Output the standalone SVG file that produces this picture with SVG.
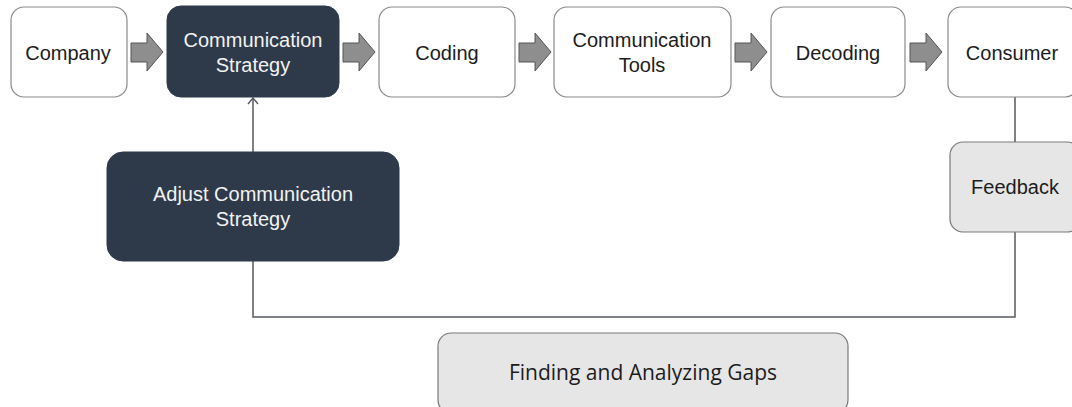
<svg xmlns="http://www.w3.org/2000/svg" width="1072" height="407" viewBox="0 0 1072 407">
<defs>
<style>
.lb{fill:#ffffff;stroke:#8a8a8a;stroke-width:1.2}
.db{fill:#2e3a4a;stroke:#2e3a4a;stroke-width:1}
.gb{fill:#e6e6e6;stroke:#7a7a7a;stroke-width:1.2}
.t{font-family:"Liberation Sans",Arial,sans-serif;font-size:20px;text-anchor:middle}
.tk{fill:#1c1c1c}
.tw{fill:#f2f2f2}
.ba{fill:#8e8e8e;stroke:#555555;stroke-width:1}
.ln{fill:none;stroke:#555a60;stroke-width:1.5}
</style>
<marker id="chev" viewBox="0 0 10 12" refX="9" refY="6" markerWidth="10" markerHeight="12" markerUnits="userSpaceOnUse" orient="auto">
<path d="M3,1 L9,6 L3,11" fill="none" stroke="#555a60" stroke-width="1.4"/>
</marker>
<path id="arr" d="M0,10 H16 V0 L32,19 L16,38 V29 H0 Z"/>
</defs>

<g id="connectors">
<use href="#arr" class="ba" x="131" y="33"/>
<use href="#arr" class="ba" x="343" y="33"/>
<use href="#arr" class="ba" x="519" y="33"/>
<use href="#arr" class="ba" x="735" y="33"/>
<use href="#arr" class="ba" x="910" y="33"/>
<path class="ln" d="M1015,97 V142"/>
<path class="ln" d="M1015,232 V317 H253 V261"/>
<path class="ln" d="M253,152 V98" marker-end="url(#chev)"/>
</g>

<g id="company">
<rect class="lb" x="11" y="7" width="116" height="90" rx="13"/>
<text class="t tk" x="68" y="60">Company</text>
</g>
<g id="communication-strategy">
<rect class="db" x="167" y="6" width="172" height="91" rx="14"/>
<text class="t tw" x="253" y="47">Communication</text>
<text class="t tw" x="253" y="72">Strategy</text>
</g>
<g id="coding">
<rect class="lb" x="379" y="7" width="136" height="90" rx="13"/>
<text class="t tk" x="447" y="60">Coding</text>
</g>
<g id="communication-tools">
<rect class="lb" x="554" y="7" width="177" height="90" rx="13"/>
<text class="t tk" x="642" y="47">Communication</text>
<text class="t tk" x="642" y="72">Tools</text>
</g>
<g id="decoding">
<rect class="lb" x="771" y="7" width="134" height="90" rx="13"/>
<text class="t tk" x="838" y="60">Decoding</text>
</g>
<g id="consumer">
<rect class="lb" x="948" y="7" width="130" height="90" rx="13"/>
<text class="t tk" x="1012" y="60">Consumer</text>
</g>
<g id="feedback">
<rect class="gb" x="950" y="142" width="130" height="90" rx="13"/>
<text class="t tk" x="1015" y="194">Feedback</text>
</g>
<g id="adjust-communication-strategy">
<rect class="db" x="107" y="152" width="292" height="109" rx="16"/>
<text class="t tw" x="253" y="201">Adjust Communication</text>
<text class="t tw" x="253" y="226">Strategy</text>
</g>
<g id="finding-gaps">
<rect class="gb" x="438" y="333" width="410" height="80" rx="13"/>
<text x="643" y="380" style="font-family:'Open Sans','Noto Sans',sans-serif;font-size:21px;text-anchor:middle;fill:#1c1c1c">Finding and Analyzing Gaps</text>
</g>
</svg>
